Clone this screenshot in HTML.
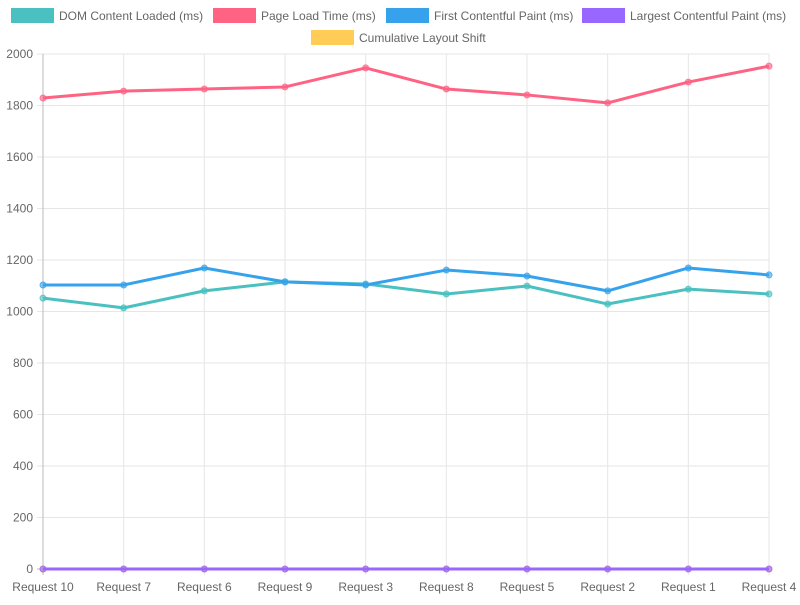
<!DOCTYPE html>
<html><head><meta charset="utf-8"><style>
body{margin:0;background:#fff;}
svg text{font-family:"Liberation Sans",sans-serif;font-size:12px;fill:#666;}
</style></head><body>
<svg id="c" width="800" height="600" xmlns="http://www.w3.org/2000/svg"></svg>
<script>
const categories=["Request 10","Request 7","Request 6","Request 9","Request 3","Request 8","Request 5","Request 2","Request 1","Request 4"];
const domLoaded=[1052,1014,1080,1115,1107,1068,1099,1029,1087,1068];
const pageLoad=[1829,1856,1864,1872,1946,1864,1841,1810,1891,1953];
const fcp=[1103,1103,1169,1115,1103,1161,1138,1080,1169,1142];
const lcp=[0,0,0,0,0,0,0,0,0,0];
const cls=[0.1,0.05,0.08,0.02,0.1,0.06,0.03,0.09,0.04,0.07];
const yTicks=[0,200,400,600,800,1000,1200,1400,1600,1800,2000];
const series=[
 {name:"Cumulative Layout Shift",data:cls,color:"#ffcd56",lx:311,ly:30},
 {name:"DOM Content Loaded (ms)",data:domLoaded,color:"#4bc0c0",lx:11,ly:8},
 {name:"Page Load Time (ms)",data:pageLoad,color:"#ff6384",lx:213,ly:8},
 {name:"First Contentful Paint (ms)",data:fcp,color:"#36a2eb",lx:386,ly:8},
 {name:"Largest Contentful Paint (ms)",data:lcp,color:"#9966ff",lx:582,ly:8}
];
const svg=document.getElementById('c');const NS="http://www.w3.org/2000/svg";
const L=43,R=769,T=54,B=569;
const x=i=>L+i*(R-L)/(categories.length-1);
const y=v=>B-(v/2000)*(B-T);
function el(t,a,p){const e=document.createElementNS(NS,t);for(const k in a)e.setAttribute(k,a[k]);(p||svg).appendChild(e);return e;}
yTicks.forEach(v=>{
 const g=el('line',{x1:L-6,x2:R,y1:y(v),y2:y(v),stroke:v===0?'#bbb':'#e6e6e6'});
 
 
 const t=el('text',{x:33,y:y(v)+4,'text-anchor':'end'});t.textContent=v;
 
 
});
categories.forEach((c,i)=>{
 const g=el('line',{x1:x(i),x2:x(i),y1:T,y2:B+6,stroke:i===0?'#bbb':'#e6e6e6'});
 
 
 const t=el('text',{x:x(i),y:591,'text-anchor':'middle'});t.textContent=c;
 
 
});
series.forEach(s=>{
 const g=el('g',{});
 
 
 const p=el('polyline',{points:s.data.map((v,i)=>x(i)+','+y(v)).join(' '),fill:'none',stroke:s.color,'stroke-width':3,'stroke-linejoin':'round'},g);
 
 
 s.data.forEach((v,i)=>{
  const c=el('circle',{cx:x(i),cy:y(v),r:3,fill:s.color,'fill-opacity':0.6,stroke:s.color,'stroke-opacity':0.8},g);
  
  
 });
 const lg=el('g',{});
 
 
 el('rect',{x:s.lx,y:s.ly,width:43,height:15,fill:s.color},lg);
 const t=el('text',{x:s.lx+48,y:s.ly+12},lg);t.textContent=s.name;
});
</script>
</body></html>
